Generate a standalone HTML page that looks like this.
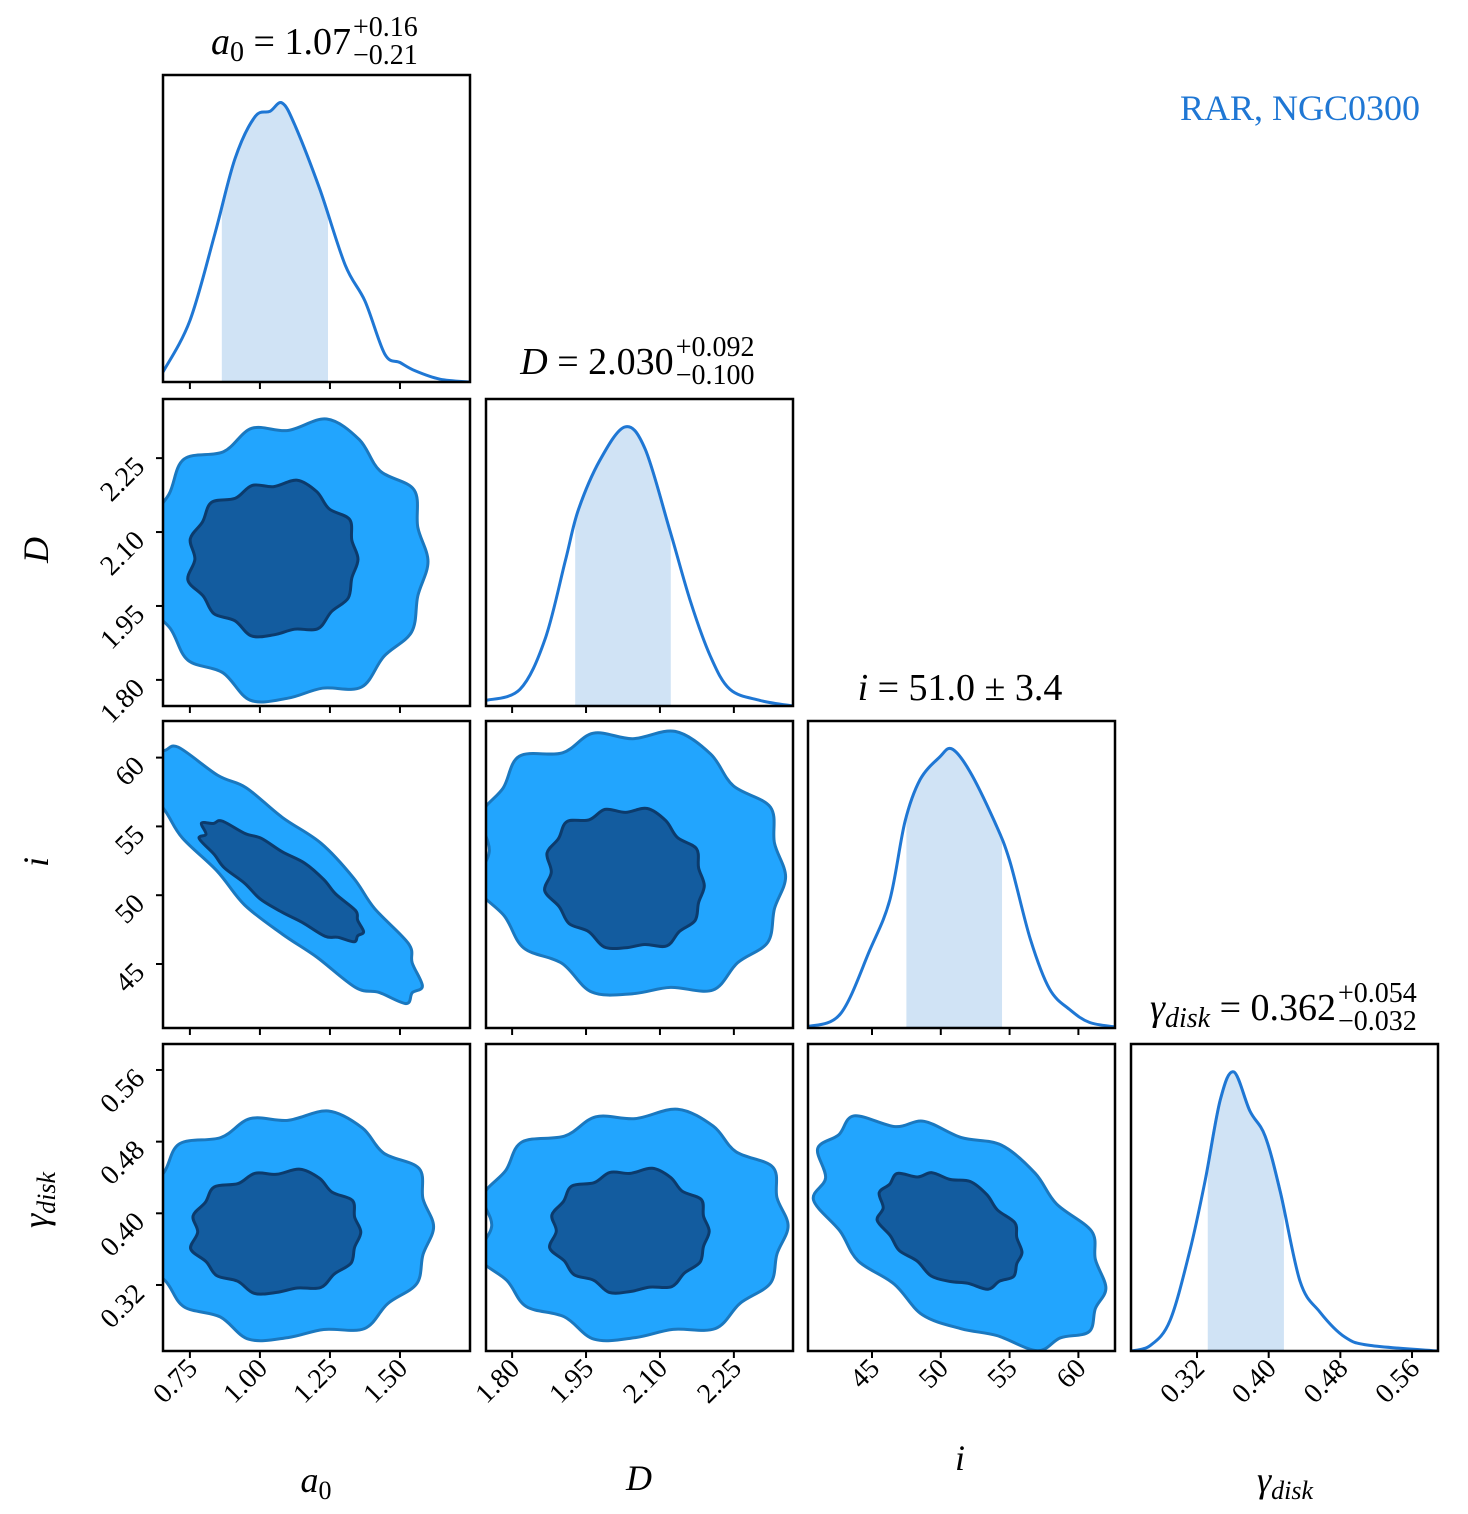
<!DOCTYPE html>
<html><head><meta charset="utf-8"><style>
html,body{margin:0;padding:0;background:#fff;}
svg{display:block;font-family:"Liberation Serif","DejaVu Serif",serif;}
</style></head><body>
<svg id="chart" width="1468" height="1514" viewBox="0 0 1468 1514" xmlns="http://www.w3.org/2000/svg">
<defs id="defs"></defs>
<g id="panels"></g>
<text x="1420" y="120" text-anchor="end" font-size="36" fill="#1f77d4">RAR, NGC0300</text>
</svg>
<script>
// ---- data ----
const varNames = ["a0","D","i","g"];
const domains = [[0.654,1.75],[1.747,2.370],[40.35,62.66],[0.2463,0.589]];
const ticksA0 = [0.75,1.00,1.25,1.50];
const ticksD = [1.80,1.95,2.10,2.25];
const ticksI = [45,50,55,60];
const ticksG = [0.32,0.40,0.48,0.56];
const tickLabelsA0 = ["0.75","1.00","1.25","1.50"];
const tickLabelsD = ["1.80","1.95","2.10","2.25"];
const tickLabelsI = ["45","50","55","60"];
const tickLabelsG = ["0.32","0.40","0.48","0.56"];
// KDE grids (x values) and densities
const kdeA0x = [0.654,0.75,0.839,0.911,0.982,1.036,1.079,1.125,1.214,1.304,1.375,1.446,1.5,1.554,1.643,1.75];
const kdeA0y = [0.036,0.22,0.53,0.80,0.95,0.97,1.0,0.92,0.69,0.42,0.29,0.10,0.07,0.04,0.01,0];
const kdeDx = [1.747,1.816,1.867,1.908,1.934,1.978,2.029,2.07,2.12,2.161,2.202,2.242,2.303,2.37];
const kdeDy = [0.02,0.06,0.24,0.52,0.70,0.88,1.0,0.92,0.63,0.38,0.18,0.06,0.02,0.0];
const kdeIx = [40.35,42.7,44.85,46.3,47.4,48.5,49.9,50.8,52.1,53.9,55.0,56.5,57.9,59.4,60.8,62.66];
const kdeIy = [0.005,0.05,0.28,0.46,0.74,0.89,0.97,1.0,0.92,0.74,0.60,0.32,0.14,0.065,0.02,0.004];
const kdeGx = [0.2463,0.268,0.29,0.312,0.329,0.346,0.361,0.379,0.396,0.413,0.435,0.457,0.485,0.513,0.589];
const kdeGy = [0,0.02,0.11,0.36,0.61,0.90,1.0,0.86,0.77,0.57,0.25,0.14,0.05,0.02,0];
const shadeLo = [0.864,1.928,47.5,0.332];
const shadeHi = [1.243,2.122,54.45,0.417];
// 2D contours: [col,row, cx,cy, sx,sy, rho]
const innerContours = [
 [0,1, 1.05,2.045, 0.30,0.155, 0.0],
 [0,2, 1.08,51.0, 0.29,4.3, -0.85],
 [1,2, 2.03,51.2, 0.16,5.1, -0.1],
 [0,3, 1.06,0.379, 0.30,0.068, 0.0],
 [1,3, 2.04,0.380, 0.16,0.068, 0.0],
 [2,3, 50.7,0.382, 5.2,0.064, -0.4]
];
const outerContours = [
 [0,1, 1.10,2.04, 0.50,0.28, 0.0],
 [0,2, 1.08,51.5, 0.50,9.2, -0.88],
 [1,2, 2.045,52.3, 0.31,9.6, -0.1],
 [0,3, 1.10,0.385, 0.52,0.125, 0.0],
 [1,3, 2.05,0.386, 0.31,0.126, 0.0],
 [2,3, 51.5,0.380, 10.5,0.127, -0.5]
];
const wobble = [1.0,0.96,1.04,0.93,1.02,1.07,0.95,1.0,0.92,1.05,0.98,1.03,0.94,1.06,0.97,1.01,0.93,1.04,0.99,0.95,1.05,0.97,1.02,0.96];

// ---- layout ----
const colL = [163,486,808,1131], rowT = [75,399,721,1044], S = 307;
const NS = "http://www.w3.org/2000/svg";
const svg = document.getElementById("panels"), defs = document.getElementById("defs");
function sx(k,v,c){const d=domains[k];return colL[c]+(v-d[0])/(d[1]-d[0])*S;}
function sy(k,v,r){const d=domains[k];return rowT[r]+(1-(v-d[0])/(d[1]-d[0]))*S;}
function mk(t,a,p){const e=document.createElementNS(NS,t);for(const k in a)e.setAttribute(k,a[k]);(p||svg).appendChild(e);return e;}
function smooth(pts,closed){
 let d="M"+pts[0][0].toFixed(1)+","+pts[0][1].toFixed(1);const n=pts.length;
 const lim=closed?n:n-1;
 for(let i=0;i<lim;i++){
  const p0=pts[closed?(i-1+n)%n:Math.max(i-1,0)],p1=pts[i],p2=pts[(i+1)%n],p3=pts[closed?(i+2)%n:Math.min(i+2,n-1)];
  d+=" C"+(p1[0]+(p2[0]-p0[0])/6).toFixed(1)+","+(p1[1]+(p2[1]-p0[1])/6).toFixed(1)+" "+(p2[0]-(p3[0]-p1[0])/6).toFixed(1)+","+(p2[1]-(p3[1]-p1[1])/6).toFixed(1)+" "+p2[0].toFixed(1)+","+p2[1].toFixed(1);
 }
 return d+(closed?" Z":"");
}
const kdes=[[kdeA0x,kdeA0y],[kdeDx,kdeDy],[kdeIx,kdeIy],[kdeGx,kdeGy]];
const ticks=[ticksA0,ticksD,ticksI,ticksG], tlabels=[tickLabelsA0,tickLabelsD,tickLabelsI,tickLabelsG];

for(let r=0;r<4;r++)for(let c=0;c<=r;c++){
 const cp=mk("clipPath",{id:"cp"+c+r},defs);mk("rect",{x:colL[c],y:rowT[r],width:S,height:S},cp);
}
// diagonal KDEs
for(let k=0;k<4;k++){
 const [xs,ys]=kdes[k];const base=rowT[k]+S, h=S/1.1;
 const pts=xs.map((v,j)=>[sx(k,v,k),base-ys[j]*h]);
 const g=mk("g",{"clip-path":"url(#cp"+k+k+")"});
 
 
 const path=smooth(pts,false);
 const cp=mk("clipPath",{id:"sh"+k},defs);
 const x0=sx(k,shadeLo[k],k),x1=sx(k,shadeHi[k],k);
 mk("rect",{x:x0,y:rowT[k],width:x1-x0,height:S},cp);
 const fill=mk("path",{d:path+" L"+pts[pts.length-1][0]+","+base+" L"+pts[0][0]+","+base+" Z",fill:"#d0e3f5",stroke:"#b3d0f0","stroke-width":3,"clip-path":"url(#sh"+k+")"},g);
 
 
 mk("path",{d:path,fill:"none",stroke:"#1f77d4","stroke-width":3},g);
}
function contour(spec,fill,stroke){
 const [c,r,cx,cy,a,b,rho]=spec;const kx=c,ky=r;const n=wobble.length;const pts=[];
 for(let j=0;j<n;j++){const t=j/n*2*Math.PI,w=wobble[j];
  const dx=a*Math.cos(t)*w, dy=b*(rho*Math.cos(t)+Math.sqrt(1-rho*rho)*Math.sin(t))*w;
  pts.push([sx(kx,cx+dx,c),sy(ky,cy+dy,r)]);}
 return mk("path",{d:smooth(pts,true),fill:fill,stroke:stroke,"stroke-width":3,"clip-path":"url(#cp"+c+r+")"});
}
outerContours.forEach(s=>{const p=contour(s,"#22a5fe","#1a78bf");
 
 });
innerContours.forEach(s=>{const p=contour(s,"#135c9f","#0c3b6c");
 
 });

for(let r=0;r<4;r++)for(let c=0;c<=r;c++){
 const f=mk("rect",{x:colL[c],y:rowT[r],width:S,height:S,fill:"none",stroke:"#000","stroke-width":2.5});
 
 
 ticks[c].forEach(v=>{const x=sx(c,v,c);mk("line",{x1:x,x2:x,y1:rowT[r]+S,y2:rowT[r]+S+7,stroke:"#000","stroke-width":2});});
 if(c===0&&r>0)ticks[r].forEach(v=>{const y=sy(r,v,r);mk("line",{x1:colL[0]-7,x2:colL[0],y1:y,y2:y,stroke:"#000","stroke-width":2});});
}
for(let c=0;c<4;c++){ticks[c].forEach((v,j)=>{const x=sx(c,v,c)+9,y=1370;
 const t=mk("text",{x:x,y:y,"text-anchor":"end","font-size":28,transform:"rotate(-45 "+x+" "+y+")"});t.textContent=tlabels[c][j];
 
 });}
for(let r=1;r<4;r++){ticks[r].forEach((v,j)=>{const x=146,y=sy(r,v,r)+10;
 const t=mk("text",{x:x,y:y,"text-anchor":"end","font-size":28,transform:"rotate(-45 "+x+" "+y+")"});t.textContent=tlabels[r][j];
 
 });}

function lbl(html,x,y,rot,name){const t=mk("text",{x:x,y:y,"text-anchor":"middle","font-size":36,transform:rot?"rotate(-90 "+x+" "+y+")":""});t.innerHTML=html;
 }
lbl('<tspan font-style="italic">a</tspan><tspan font-size="26" dy="7">0</tspan>',316,1492,false,'x-axis-title-a0');
lbl('<tspan font-style="italic">D</tspan>',639,1490,false,'x-axis-title-d');
lbl('<tspan font-style="italic">i</tspan>',960,1470,false,'x-axis-title-i');
lbl('<tspan font-style="italic">γ</tspan><tspan font-size="26" font-style="italic" dy="7">disk</tspan>',1285,1492,false,'x-axis-title-gamma');
lbl('<tspan font-style="italic">D</tspan>',48,550,true,'y-axis-title-d');
lbl('<tspan font-style="italic">i</tspan>',48,862,true,'y-axis-title-i');
lbl('<tspan font-style="italic">γ</tspan><tspan font-size="26" font-style="italic" dy="7">disk</tspan>',48,1200,true,'y-axis-title-gamma');

function title(cx,by,main,val,up,dn,name){
 const g=mk("g",{});
 const t=mk("text",{y:by,"font-size":38},g);t.innerHTML=main+" = "+val;
 const w=t.getComputedTextLength();
 const sw=Math.max(up.length,dn.length)*14;
 const x0=cx-(w+sw)/2;t.setAttribute("x",x0);
 if(up){const a=mk("text",{x:x0+w+2,y:by-18,"font-size":28},g);a.textContent=up;
 const b=mk("text",{x:x0+w+2,y:by+10,"font-size":28},g);b.textContent=dn;}
}
title(316,54,'<tspan font-style="italic">a</tspan><tspan font-size="28" dy="7">0</tspan><tspan dy="-7"> </tspan>',"1.07","+0.16","−0.21",'title-a0');
title(639,374,'<tspan font-style="italic">D</tspan>',"2.030","+0.092","−0.100",'title-d');
title(960,700,'<tspan font-style="italic">i</tspan>',"51.0 ± 3.4","","",'title-i');
title(1285,1020,'<tspan font-style="italic">γ</tspan><tspan font-size="28" font-style="italic" dy="7">disk</tspan><tspan dy="-7"> </tspan>',"0.362","+0.054","−0.032",'title-gamma');
</script>
</body></html>
